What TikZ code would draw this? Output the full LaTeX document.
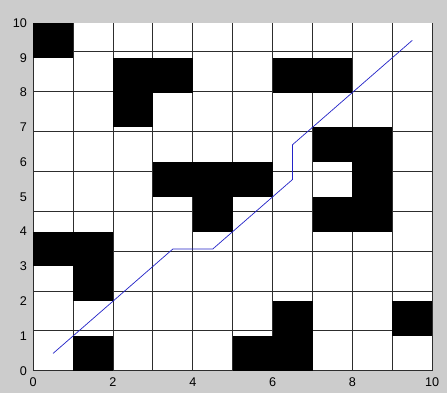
\documentclass[tikz,border=0pt]{standalone}
\usepackage{fontspec}
\setmainfont{Liberation Sans}
\definecolor{FigGray}{RGB}{204,204,204}
\definecolor{GridLine}{RGB}{45,45,45}
\definecolor{PathBlue}{RGB}{35,35,200}

\begin{document}
\begin{tikzpicture}[x=1cm,y=0.8715cm,font=\fontsize{9}{10}\selectfont,
    xlab/.style={anchor=north,inner sep=0pt},
    ylab/.style={anchor=east,inner sep=0pt}]
    \fill[FigGray] (-0.83,-0.63) rectangle (10.37,10.66);
    \useasboundingbox (-0.83,-0.63) rectangle (10.37,10.66);
    \fill[white] (0,0) rectangle (10,10);
    \draw[GridLine,line width=0.6pt] (0,0) grid (10,10);
    % occupied cells
    \foreach \cx/\cy in {0/9,2/8,3/8,2/7,6/8,7/8,7/6,8/6,8/5,7/4,8/4,3/5,4/5,5/5,4/4,0/3,1/3,1/2,9/1,6/1,1/0,5/0,6/0}
      \fill[black] (\cx,\cy) rectangle ++(1,1);
    \foreach \t in {0,2,...,10}
      \node[xlab] (xt\t) at (\t,-0.2) {\t};
    \foreach \t in {0,...,10}
      \node[ylab] (yt\t) at (-0.15,\t) {\t};
    % path
    \draw[PathBlue,line width=0.5pt] (0.5,0.5) -- (3,3) -- (3.5,3.5) -- (4.5,3.5) -- (6,5)
      -- (6.5,5.5) -- (6.5,6.5) -- (9.5,9.5);
\end{tikzpicture}
\end{document}
